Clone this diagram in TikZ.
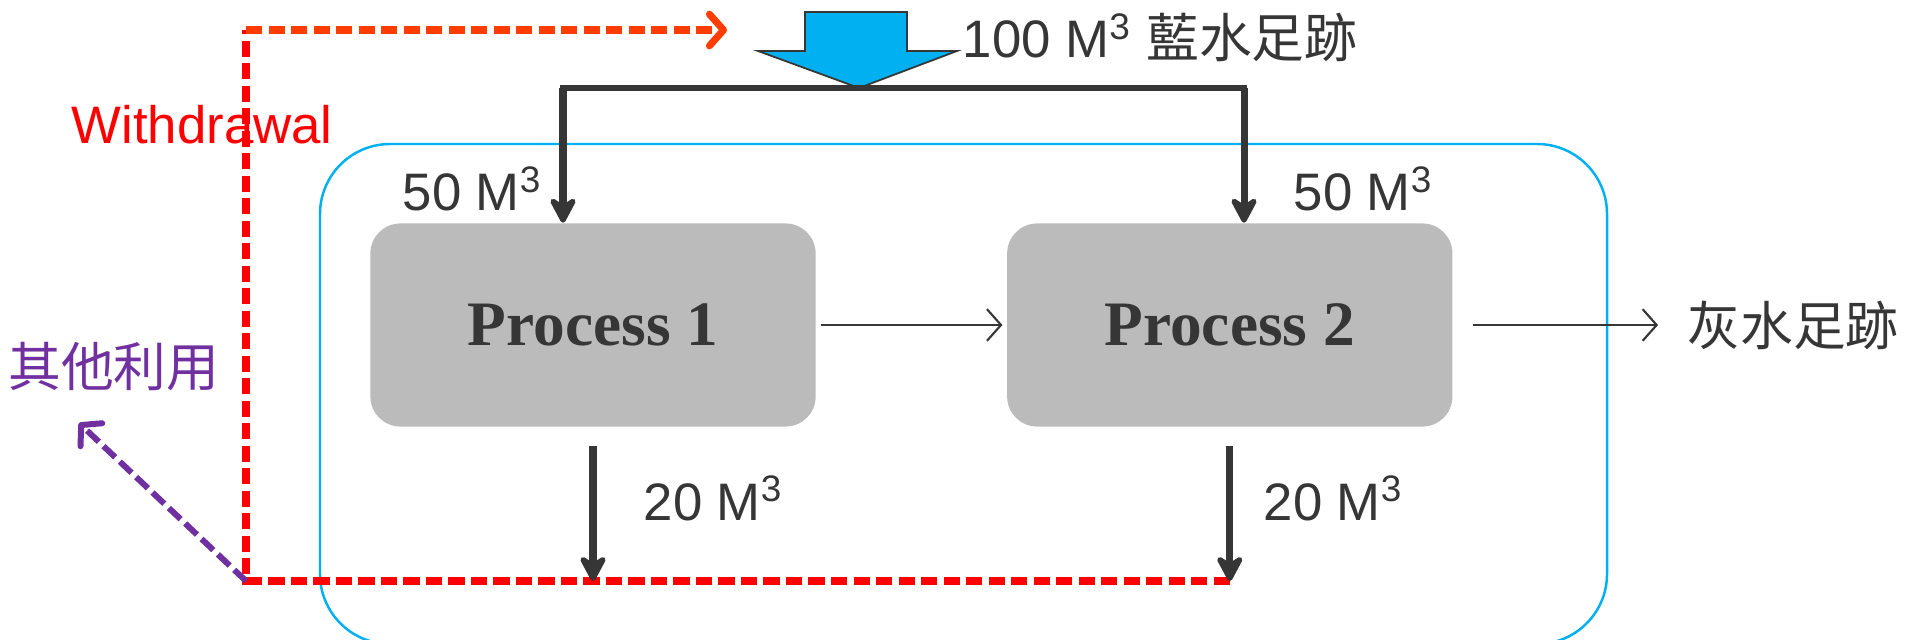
\documentclass[tikz,border=0pt]{standalone}
\usepackage{fontspec}
\setmainfont{Liberation Serif}
\setsansfont{Liberation Sans}
\newfontfamily\cjk{Noto Sans CJK TC}
\usepackage{xcolor}
\usetikzlibrary{calc,positioning,arrows.meta}
\definecolor{InkGray}{HTML}{363636}
\definecolor{ProcGray}{HTML}{BBBBBB}
\definecolor{SkyBlue}{HTML}{00B0F0}
\definecolor{WithdrawRed}{HTML}{FF0000}
\definecolor{ReturnOrange}{HTML}{FF3D00}
\definecolor{OtherPurple}{HTML}{7030A0}
\tikzset{
    procbox/.style={
        fill=ProcGray,
        text=InkGray,
        rounded corners=0.3cm,
        minimum width=4.45cm,
        minimum height=2.03cm,
        font=\fontsize{18}{20}\selectfont\bfseries
    },
    qtytext/.style={anchor=base west, inner sep=0pt, text=InkGray, font=\sffamily\fontsize{15}{18}\selectfont},
    cjktext/.style={font=\cjk\fontsize{15}{18}\selectfont},
    flowarrow/.style={InkGray, line width=2pt, -{Stealth[length=9pt,width=9.5pt,inset=3pt,round]}},
    thinarrow/.style={InkGray, line width=0.6pt, -{Straight Barb[length=4pt,width=9pt]}},
    reddash/.style={WithdrawRed, line width=2pt, dash pattern=on 4.6pt off 1.8pt},
    orangedash/.style={ReturnOrange, line width=2pt, dash pattern=on 4.6pt off 1.8pt},
    purpledash/.style={OtherPurple, line width=1.7pt, dash pattern=on 4.6pt off 1.8pt}
}
\begin{document}
\begin{tikzpicture}[x=0.01cm, y=-0.01cm]
    \useasboundingbox (0,0) rectangle (1910,640);

    % system boundary
    \draw[SkyBlue, line width=0.7pt, rounded corners=0.7cm] (320,144) rectangle (1607,644);

    \node[procbox] (p1) at (593,325) {Process 1};
    \node[procbox, right=1.9cm of p1] (p2) {Process 2};

    % blue water inflow
    \draw[InkGray, line width=0.5pt, fill=SkyBlue] (805,12) -- (907,12) -- (907,51) -- (957,51)
        -- (859,88) -- (758,51) -- (805,51) -- cycle;
    \node[qtytext] (blue) at (962,58) {100 M\textsuperscript{3} {\cjk 藍水足跡}};

    \coordinate (jl) at (563,88);
    \coordinate (jr) at (1244,88);
    \coordinate (wl) at (246,581);
    \coordinate (wtop) at (246,30);
    \coordinate (wend) at (727,30);
    \coordinate (otip) at (79,423);

    % withdrawal loop
    \draw[reddash] (p2.south |- wl) -- (wl) -- (wtop);
    \draw[orangedash, -{Straight Barb[length=4pt,width=9pt,round]}] (wtop) -- (wend);
    \draw[purpledash, -{Straight Barb[length=4pt,width=9pt,round]}] (wl) -- (otip);
    \node[anchor=base west, inner sep=0pt, text=WithdrawRed, font=\sffamily\fontsize{15}{18}\selectfont] (wd) at (71,144) {Withdrawal};
    \node[cjktext, text=OtherPurple] (other) at (114,367) {其他利用};

    % split of the inflow
    \draw[InkGray, line width=1.8pt, line cap=rect] (jl) -- (jr);
    \draw[flowarrow] (jl) -- (jl |- p1.north);
    \draw[flowarrow] (jr) -- (jr |- p2.north);
    \node[qtytext] (in1) at (402,211) {50 M\textsuperscript{3}};
    \node[qtytext] (in2) at (1293,211) {50 M\textsuperscript{3}};

    % outflows
    \draw[flowarrow] ([yshift=-0.19cm]p1.south) -- (p1.south |- wl);
    \draw[flowarrow] ([yshift=-0.19cm]p2.south) -- (p2.south |- wl);
    \node[qtytext] (out1) at (643,520) {20 M\textsuperscript{3}};
    \node[qtytext] (out2) at (1263,520) {20 M\textsuperscript{3}};

    \draw[thinarrow, shorten <=0.05cm, shorten >=0.04cm] (p1.east) -- (p2.west);
    \node[cjktext, text=InkGray] (grey) at (1793,325) {灰水足跡};
    \draw[thinarrow, shorten <=0.2cm, shorten >=0.17cm] (p2.east) -- (grey.west);
\end{tikzpicture}
\end{document}
